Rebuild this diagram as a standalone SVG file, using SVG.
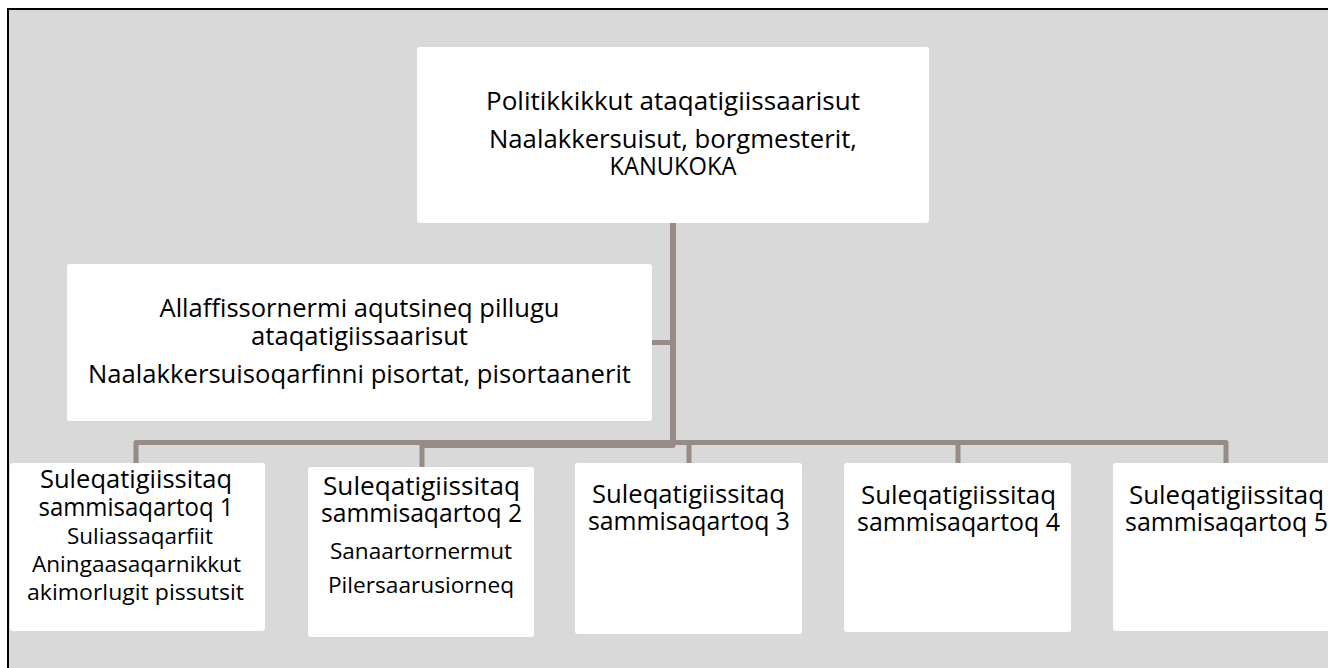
<svg xmlns="http://www.w3.org/2000/svg" width="1328" height="668" viewBox="0 0 1328 668">
<style>
.box{fill:#ffffff;}
.t{font-family:"Open Sans","Noto Sans","DejaVu Sans",sans-serif;fill:#000;text-anchor:middle;}
.big{font-size:26px;}
.small{font-size:22px;}
.con{fill:none;stroke:#968b86;stroke-width:5;stroke-linejoin:round;}
</style>
<rect x="0" y="0" width="1328" height="668" fill="#ffffff"/>
<rect x="8" y="9" width="1330" height="670" fill="#d9d9d9" stroke="#000000" stroke-width="2"/>
<g id="connectors">
<path class="con" d="M673,223 V442.5 H136 V463"/>
<path class="con" d="M673,440 V445.5 H422 V467"/>
<path class="con" d="M673,442.5 H689 V463"/>
<path class="con" d="M673,442.5 H958 V463"/>
<path class="con" d="M673,442.5 H1226 V463"/>
<path class="con" d="M652,342.5 H673"/>
<path class="con" style="stroke-width:6" d="M673,223 V444"/>
</g>
<g id="node-top">
<rect class="box" x="417" y="47" width="512" height="176" rx="3"/>
<text class="t big" x="673" y="110" textLength="374" lengthAdjust="spacingAndGlyphs">Politikkikkut ataqatigiissaarisut</text>
<text class="t big" x="673" y="148" textLength="368" lengthAdjust="spacingAndGlyphs">Naalakkersuisut, borgmesterit,</text>
<text class="t big" x="673" y="175" textLength="127" lengthAdjust="spacingAndGlyphs">KANUKOKA</text>
</g>
<g id="node-admin">
<rect class="box" x="67" y="264" width="585" height="157" rx="3"/>
<text class="t big" x="359.5" y="317" textLength="400" lengthAdjust="spacingAndGlyphs">Allaffissornermi aqutsineq pillugu</text>
<text class="t big" x="359.5" y="345" textLength="217" lengthAdjust="spacingAndGlyphs">ataqatigiissaarisut</text>
<text class="t big" x="359.5" y="383" textLength="543" lengthAdjust="spacingAndGlyphs">Naalakkersuisoqarfinni pisortat, pisortaanerit</text>
</g>
<g id="node-group1">
<rect class="box" x="10" y="463" width="255" height="168" rx="3"/>
<text class="t big" x="136" y="488" textLength="192" lengthAdjust="spacingAndGlyphs">Suleqatigiissitaq</text>
<text class="t big" x="136" y="516" textLength="195" lengthAdjust="spacingAndGlyphs">sammisaqartoq 1</text>
<text class="t small" x="140" y="544" textLength="146" lengthAdjust="spacingAndGlyphs">Suliassaqarfiit</text>
<text class="t small" x="136.5" y="572" textLength="209" lengthAdjust="spacingAndGlyphs">Aningaasaqarnikkut</text>
<text class="t small" x="135.5" y="600" textLength="217" lengthAdjust="spacingAndGlyphs">akimorlugit pissutsit</text>
</g>
<g id="node-group2">
<rect class="box" x="308" y="467" width="226" height="170" rx="3"/>
<text class="t big" x="421.5" y="495" textLength="197" lengthAdjust="spacingAndGlyphs">Suleqatigiissitaq</text>
<text class="t big" x="421.5" y="522" textLength="201" lengthAdjust="spacingAndGlyphs">sammisaqartoq 2</text>
<text class="t small" x="421" y="559" textLength="182" lengthAdjust="spacingAndGlyphs">Sanaartornermut</text>
<text class="t small" x="421" y="593" textLength="186" lengthAdjust="spacingAndGlyphs">Pilersaarusiorneq</text>
</g>
<g id="node-group3">
<rect class="box" x="575" y="463" width="227" height="171" rx="3"/>
<text class="t big" x="688.5" y="503" textLength="193" lengthAdjust="spacingAndGlyphs">Suleqatigiissitaq</text>
<text class="t big" x="689" y="530" textLength="202" lengthAdjust="spacingAndGlyphs">sammisaqartoq 3</text>
</g>
<g id="node-group4">
<rect class="box" x="844" y="463" width="227" height="169" rx="3"/>
<text class="t big" x="958.5" y="504" textLength="195" lengthAdjust="spacingAndGlyphs">Suleqatigiissitaq</text>
<text class="t big" x="958.5" y="531" textLength="203" lengthAdjust="spacingAndGlyphs">sammisaqartoq 4</text>
</g>
<g id="node-group5">
<rect class="box" x="1113" y="463" width="227" height="168" rx="3"/>
<text class="t big" x="1226.5" y="504" textLength="195" lengthAdjust="spacingAndGlyphs">Suleqatigiissitaq</text>
<text class="t big" x="1226.5" y="531" textLength="203" lengthAdjust="spacingAndGlyphs">sammisaqartoq 5</text>
</g>
</svg>
